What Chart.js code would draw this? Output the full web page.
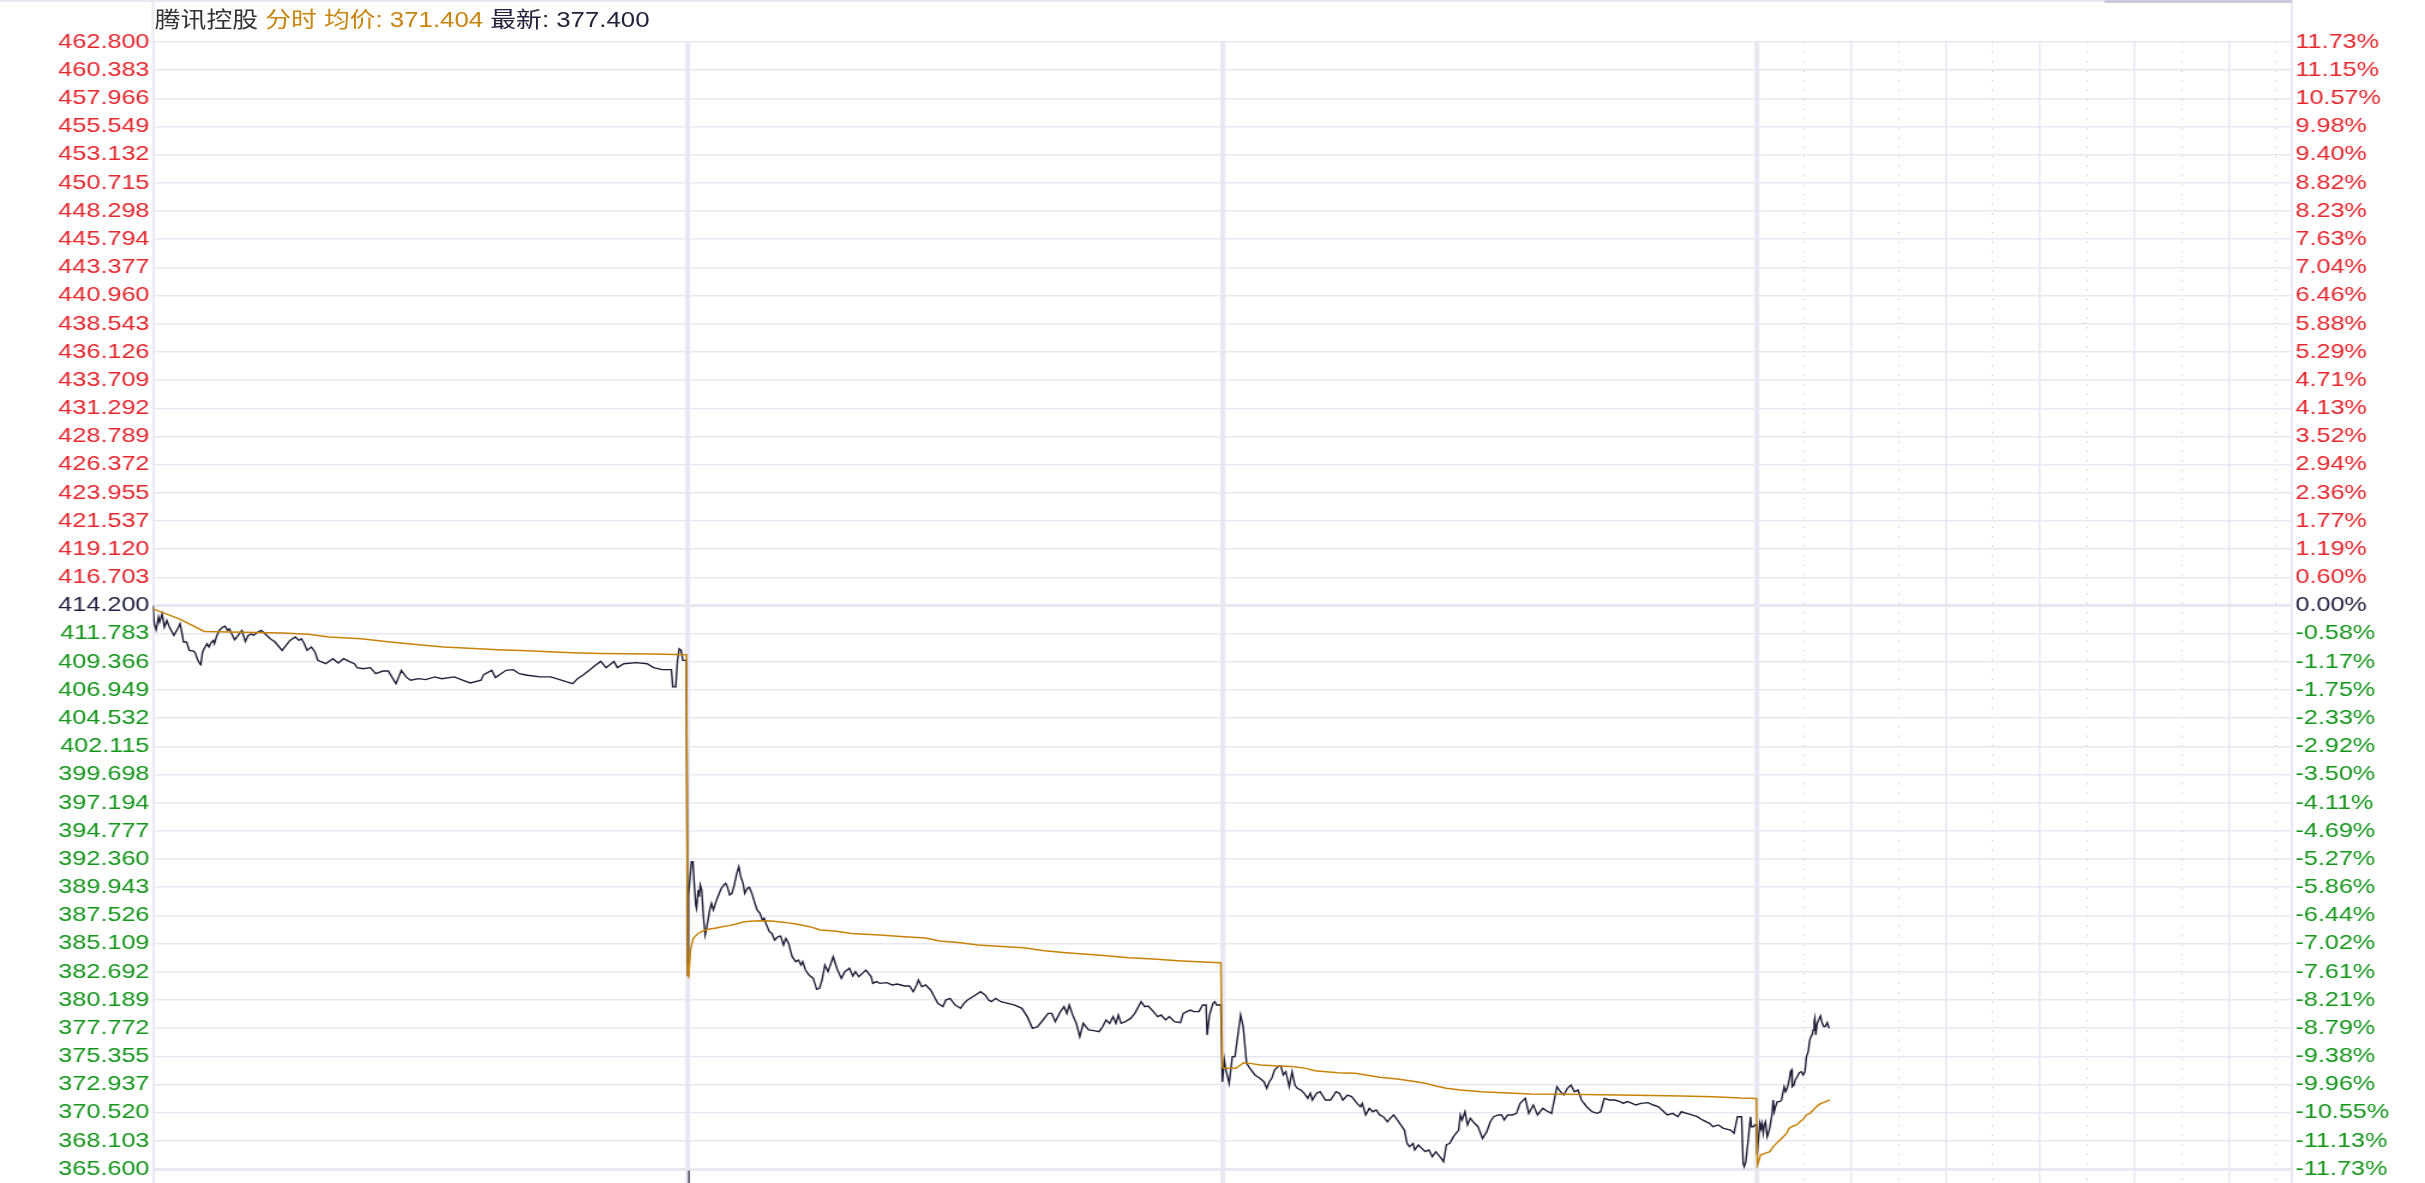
<!DOCTYPE html>
<html><head><meta charset="utf-8">
<script src="https://cdn.jsdelivr.net/npm/chart.js@4.4.0/dist/chart.umd.min.js"></script>
<style>
html,body{margin:0;padding:0;background:#fff;overflow:hidden;width:2425px;height:1183px;}
#wrap{position:absolute;left:0;top:0;width:2021px;height:1183px;transform:scaleX(1.1999);transform-origin:0 0;}
#box{position:absolute;left:0;top:0;width:2021px;height:1183px;}
#hdr{position:absolute;left:129px;top:8px;font-size:21.5px;font-family:"Liberation Sans","Noto Sans CJK SC",Arial,sans-serif;line-height:24px;white-space:nowrap;color:#333;}
</style></head><body>
<div id="wrap">
  <div id="box"><canvas id="c"></canvas></div>
  <div id="hdr"><span style="color:#333333">腾讯控股</span> <span style="color:#c8850f">分时 均价: 371.404</span> <span style="color:#23233c">最新: 377.400</span></div>
</div>
<script>
// ---------- tick labels ----------
const priceLabels = ["462.800","460.383","457.966","455.549","453.132","450.715","448.298","445.794","443.377","440.960","438.543","436.126","433.709","431.292","428.789","426.372","423.955","421.537","419.120","416.703","414.200","411.783","409.366","406.949","404.532","402.115","399.698","397.194","394.777","392.360","389.943","387.526","385.109","382.692","380.189","377.772","375.355","372.937","370.520","368.103","365.600"];
const pctLabels = ["11.73%","11.15%","10.57%","9.98%","9.40%","8.82%","8.23%","7.63%","7.04%","6.46%","5.88%","5.29%","4.71%","4.13%","3.52%","2.94%","2.36%","1.77%","1.19%","0.60%","0.00%","-0.58%","-1.17%","-1.75%","-2.33%","-2.92%","-3.50%","-4.11%","-4.69%","-5.27%","-5.86%","-6.44%","-7.02%","-7.61%","-8.21%","-8.79%","-9.38%","-9.96%","-10.55%","-11.13%","-11.73%"];
const priceMin = 365.6, priceMax = 462.8;
// session starts (trading-minute index, 340 minutes per session)
const dayStarts = [0, 340, 680, 1020, 1360];
const lastDayMarks = [30,60,90,120,150,180,210,240,270,300,330];

// ---------- series: [minute index, price] ----------
const price1 = [[0,414.20],[0.8,412.62],[2.0,412.11],[3.5,413.20],[4.2,412.77],[5.8,413.48],[7.2,412.34],[8.8,412.91],[10.4,412.34],[13.3,411.62],[16.3,412.34],[17.2,412.62],[18.5,411.76],[19.4,411.05],[21.3,411.05],[23.1,410.33],[25.8,410.27],[26.9,410.10],[28.1,409.61],[29.7,409.18],[30.4,409.10],[31.5,410.19],[33.1,410.62],[34.4,410.90],[35.6,410.62],[37.2,411.05],[38.3,411.19],[39.0,410.90],[40.6,411.62],[42.1,412.05],[44.4,412.34],[45.8,412.42],[47.4,412.05],[48.5,412.19],[51.9,411.25],[54.9,411.76],[56.5,412.05],[58.7,411.10],[60.5,411.62],[62.6,411.76],[63.9,411.62],[66.7,411.91],[68.9,412.05],[71.2,411.76],[74.6,411.33],[77.6,411.05],[82.1,410.33],[83.7,410.62],[87.1,411.19],[90.5,411.48],[92.8,411.19],[94.4,411.33],[96.2,410.90],[98.0,410.33],[100.7,410.62],[103.0,410.19],[104.8,409.47],[109.8,409.18],[114.4,409.61],[117.8,409.24],[121.2,409.61],[125.3,409.33],[128.0,409.18],[129.8,408.84],[133.7,408.75],[138.2,408.84],[141.6,408.32],[146.1,408.55],[149.6,408.55],[152.9,407.81],[154.5,407.46],[157.9,408.61],[160.9,408.04],[163.8,407.75],[168.9,407.89],[173.4,407.81],[179.1,408.04],[183.6,407.89],[191.6,408.04],[197.2,407.75],[201.8,407.52],[208.6,407.75],[210.2,408.24],[215.4,408.61],[217.7,407.98],[224.5,408.61],[229.0,408.67],[232.9,408.32],[238.1,408.18],[246.1,408.04],[252.9,408.04],[258.6,407.81],[263.1,407.61],[266.9,407.46],[269.9,407.89],[273.3,408.18],[277.4,408.61],[281.3,409.04],[284.7,409.38],[288.1,408.84],[293.1,409.38],[295.3,408.84],[299.4,409.18],[307.4,409.27],[314.2,409.18],[318.3,408.84],[323.7,408.67],[329.6,408.67],[330.5,407.18],[332.4,407.18],[333.5,409.47],[334.6,410.47],[335.8,410.33],[336.9,409.47],[339.2,409.47]];
const price2 = [[340.0,382.30],[340.5,389.23],[342.4,392.11],[343.3,392.11],[344.0,390.52],[345.1,388.37],[345.6,388.08],[346.7,389.66],[347.3,389.09],[348.0,390.09],[348.9,389.66],[350.0,387.36],[351.1,385.78],[352.0,386.36],[352.9,387.07],[354.0,387.94],[355.1,388.51],[356.3,387.94],[358.0,388.66],[359.6,389.23],[361.4,389.81],[362.9,390.09],[364.1,390.24],[365.2,389.95],[366.7,389.23],[368.1,389.37],[369.6,390.09],[371.2,391.10],[372.5,391.67],[373.7,390.81],[375.2,390.24],[376.3,389.37],[377.9,389.81],[379.2,389.89],[380.8,389.37],[382.4,388.66],[384.1,387.94],[385.9,387.65],[387.5,387.07],[388.6,387.22],[389.7,386.79],[391.9,386.07],[393.5,385.92],[395.3,385.35],[397.5,385.64],[399.1,385.69],[400.9,384.92],[402.4,385.49],[404.2,385.06],[406.4,383.91],[408.7,383.48],[410.4,383.62],[412.0,383.19],[413.1,383.48],[414.9,382.76],[417.1,382.33],[419.8,382.04],[422.0,381.09],[423.8,381.18],[425.4,381.90],[427.2,383.19],[429.2,382.62],[432.5,383.91],[434.8,382.91],[437.7,382.04],[439.9,382.62],[442.8,382.91],[445.0,382.24],[446.6,382.62],[448.8,382.19],[453.3,382.76],[456.6,382.19],[457.7,381.61],[460.0,381.76],[462.2,381.61],[466.6,381.67],[470.0,381.47],[473.3,381.55],[477.8,381.38],[481.1,381.38],[483.4,380.89],[485.6,381.47],[486.7,381.90],[488.9,381.32],[491.2,381.47],[494.5,381.04],[496.8,380.46],[499.0,379.89],[502.3,379.60],[504.1,380.17],[506.8,380.32],[510.1,379.74],[513.5,379.46],[515.7,379.89],[517.9,380.17],[521.3,380.46],[526.2,380.89],[529.1,380.61],[531.3,380.17],[533.1,380.03],[535.8,380.32],[539.1,380.03],[543.6,379.89],[548.0,379.74],[552.5,379.46],[555.9,378.74],[559.2,377.73],[562.5,377.87],[565.9,378.45],[569.2,379.02],[571.5,379.02],[573.7,378.31],[577.0,379.17],[579.3,379.60],[581.1,379.02],[582.6,379.74],[584.8,378.88],[587.1,378.16],[589.3,377.01],[591.5,378.16],[594.9,377.59],[598.2,377.53],[601.6,377.44],[603.8,377.87],[606.0,378.45],[608.3,378.16],[610.5,378.74],[612.3,378.16],[613.8,378.88],[615.6,378.16],[618.3,378.31],[621.6,378.59],[624.3,379.02],[628.3,380.03],[630.6,379.60],[632.8,379.66],[636.1,379.17],[638.8,378.74],[641.0,378.88],[643.9,378.45],[646.2,378.74],[649.5,378.31],[653.3,378.22],[655.1,379.02],[657.3,379.17],[659.6,379.31],[661.8,379.17],[665.1,379.17],[667.4,379.74],[669.6,379.74],[670.3,377.16],[671.8,378.88],[674.0,379.89],[675.2,380.03],[676.3,379.74],[679.0,379.74]];
const price3 = [[680.0,373.13],[681.2,375.00],[682.2,374.14],[684.3,372.99],[686.3,375.29],[688.0,375.29],[689.4,376.73],[691.6,378.88],[693.2,377.88],[695.4,374.71],[697.5,374.28],[700.7,373.71],[703.8,373.42],[706.4,373.13],[708.2,372.56],[709.8,373.13],[711.4,373.42],[713.1,374.14],[715.4,374.43],[717.2,374.48],[718.7,373.71],[720.3,373.99],[722.5,372.70],[724.3,373.99],[726.1,372.84],[727.6,372.56],[729.9,372.41],[732.1,372.13],[734.3,371.69],[735.9,372.13],[737.2,371.55],[739.9,372.13],[742.1,372.27],[745.5,371.55],[748.8,371.55],[752.2,372.27],[754.4,372.13],[756.6,371.55],[759.5,371.98],[762.2,371.84],[765.6,371.26],[767.8,370.97],[768.9,371.26],[771.1,370.26],[773.4,370.83],[775.6,370.54],[777.8,370.69],[780.0,370.26],[782.3,370.11],[784.9,369.68],[786.7,369.97],[788.9,370.26],[791.2,369.83],[793.4,369.40],[795.7,368.96],[797.4,367.81],[799.0,367.53],[801.2,367.81],[802.3,367.24],[804.6,367.67],[806.8,367.38],[809.0,367.09],[811.3,367.24],[813.5,366.66],[815.7,367.09],[819.1,366.52],[820.6,366.23],[822.4,367.67],[824.6,367.81],[826.9,368.39],[830.2,368.96],[831.3,370.26],[832.4,369.83],[834.2,370.54],[835.8,369.40],[837.6,369.97],[840.3,369.54],[842.5,369.25],[845.4,368.24],[848.1,368.82],[850.3,369.68],[852.5,370.11],[855.4,370.26],[857.6,370.26],[859.2,369.83],[861.4,370.26],[864.3,370.26],[867.0,370.40],[869.3,371.26],[872.6,371.69],[874.8,370.40],[877.7,371.12],[880.4,370.26],[883.7,370.83],[887.1,370.54],[889.3,370.40],[892.7,372.70],[894.9,372.27],[897.1,371.98],[899.4,372.56],[901.6,372.84],[903.8,372.27],[906.1,372.41],[908.3,371.55],[911.6,370.97],[915.0,370.54],[918.3,370.40],[920.5,370.54],[922.8,371.69],[926.1,371.55],[929.5,371.55],[932.8,371.41],[935.0,371.26],[937.3,371.41],[940.6,371.26],[942.8,371.12],[946.2,371.26],[950.6,371.32],[954.0,371.12],[957.3,370.97],[960.7,370.54],[962.9,370.26],[966.3,370.40],[969.6,370.11],[971.8,370.54],[975.2,370.40],[978.5,370.26],[981.9,370.11],[985.2,369.83],[989.7,369.54],[991.9,369.25],[995.3,369.40],[998.6,369.11],[1003.1,368.96],[1005.3,368.68],[1007.5,370.11],[1009.0,370.11],[1010.1,370.11],[1011.1,366.09],[1011.8,365.80],[1012.8,366.23],[1014.3,368.10],[1015.8,370.11],[1016.4,369.25],[1017.5,369.25],[1018.6,369.40],[1019.6,369.40]];
const price4 = [[1020.0,366.81],[1020.7,367.96],[1021.7,369.54],[1022.4,369.11],[1023.0,369.54],[1023.9,368.67],[1024.5,369.40],[1025.3,369.68],[1026.4,368.39],[1027.7,368.96],[1028.5,369.54],[1029.4,370.26],[1030.2,371.55],[1030.9,370.55],[1031.7,370.98],[1032.8,371.41],[1034.5,371.41],[1035.5,371.55],[1037.2,372.70],[1038.1,372.27],[1039.1,372.56],[1040.4,373.28],[1041.2,373.99],[1041.9,374.14],[1042.3,372.70],[1043.4,372.84],[1044.2,373.28],[1045.5,373.56],[1046.8,373.91],[1048.2,373.99],[1049.3,373.71],[1050.4,373.99],[1051.4,375.29],[1052.5,375.72],[1053.5,376.73],[1054.2,377.01],[1055.0,377.16],[1055.6,377.59],[1056.3,378.31],[1056.7,378.59],[1057.3,377.16],[1058.2,378.16],[1058.8,378.31],[1059.5,378.59],[1060.3,378.80],[1061.4,378.16],[1062.4,377.88],[1063.3,377.88],[1064.6,378.22],[1065.8,377.73]];

// ---------- series: [minute index, average price] ----------
const avg1 = [[0,413.91],[16.7,413.05],[32.6,411.96],[82.6,411.82],[98.5,411.71],[112.1,411.48],[132.5,411.33],[150.7,411.05],[162.1,410.90],[184.7,410.62],[207.5,410.47],[218.8,410.39],[238.1,410.30],[251.7,410.21],[266.5,410.13],[284.7,410.07],[318.7,410.01],[339.2,409.96]];
const avg2 = [[340.0,382.30],[340.6,382.19],[341.8,384.49],[343.5,385.49],[346.2,385.87],[349.6,386.13],[352.9,386.27],[357.4,386.36],[361.8,386.50],[366.3,386.59],[370.8,386.73],[375.2,386.90],[379.7,386.96],[386.4,387.02],[393.1,386.99],[402.0,386.87],[408.7,386.73],[417.6,386.50],[424.3,386.21],[433.2,386.13],[444.3,385.92],[453.3,385.84],[464.4,385.75],[477.8,385.64],[491.2,385.52],[500.1,385.26],[513.5,385.12],[524.6,384.92],[542.5,384.77],[553.6,384.69],[567.0,384.43],[580.4,384.26],[591.5,384.14],[602.7,384.03],[620.5,383.83],[636.1,383.71],[651.7,383.57],[667.4,383.45],[679.0,383.39]];
const avg3 = [[680.0,374.43],[680.8,374.28],[688.6,374.28],[693.5,374.77],[697.5,374.71],[704.2,374.57],[715.4,374.48],[724.3,374.43],[733.2,374.28],[738.8,374.08],[753.3,373.91],[764.4,373.85],[771.1,373.71],[780.0,373.51],[791.2,373.36],[800.1,373.19],[809.0,372.99],[815.7,372.76],[822.4,372.56],[831.3,372.41],[844.7,372.27],[858.1,372.18],[876.0,372.07],[898.2,372.04],[920.5,372.01],[942.8,371.95],[971.8,371.90],[991.9,371.84],[1009.7,371.72],[1019.6,371.69]];
const avg4 = [[1020.2,365.95],[1022.2,366.81],[1024.9,366.95],[1028.1,367.09],[1030.2,367.53],[1032.3,367.81],[1034.5,368.10],[1036.6,368.39],[1038.7,368.67],[1040.4,369.11],[1042.9,369.31],[1045.1,369.40],[1047.2,369.68],[1049.3,369.88],[1051.4,370.26],[1053.5,370.40],[1055.7,370.69],[1057.8,370.98],[1059.9,371.21],[1062.0,371.32],[1065.2,371.50],[1066.3,371.55]];

// ---------- build ----------
const toXY = a => a.map(p => ({x: p[0], y: p[1]}));
const priceData = toXY([].concat(price1, price2, price3, price4));
const avgData = toXY([].concat(avg1, avg2, avg3, avg4));
const lastStart = dayStarts[3];
const xTickValues = dayStarts.concat(lastDayMarks.map(m => lastStart + m)).sort((a,b)=>a-b);

const GRID = '#e8e8f3';
const DOT = '#cfcfdb';
const FONT = {family: '"Liberation Sans", Arial, sans-serif', size: 21, lineHeight: 1};
const isBoundary = v => v === dayStarts[1] || v === dayStarts[2] || v === dayStarts[3];
const isEdge = v => v === dayStarts[0] || v === dayStarts[4];
const isDotted = v => v > lastStart && v < dayStarts[4] && ((v - lastStart) % 60 === 30);
const tickVal = ctx => ctx.tick ? ctx.tick.value : NaN;
const xColor = ctx => isDotted(tickVal(ctx)) ? DOT : GRID;
const xWidth = ctx => { const v = tickVal(ctx); return isBoundary(v) ? 4.2 : (isEdge(v) ? 2 : (isDotted(v) ? 1 : 1.6)); };
const xDash = ctx => isDotted(tickVal(ctx)) ? [1.5, 8] : [];
function labelColor(j){ return j < 20 ? '#e6262d' : (j === 20 ? '#1f2040' : '#15961b'); }
const yTicks = () => priceLabels.map((_, i) => ({value: priceMin + i * (priceMax - priceMin) / (priceLabels.length - 1)}));

const framePlugin = {
  id: 'frame',
  afterDraw(chart) {
    const {ctx, chartArea: a, scales: {x}} = chart;
    ctx.save();
    ctx.strokeStyle = GRID; ctx.lineWidth = 2;
    ctx.beginPath();
    ctx.moveTo(a.left, 0); ctx.lineTo(a.left, a.top);
    ctx.moveTo(a.right, 0); ctx.lineTo(a.right, a.top);
    ctx.moveTo(0, 1); ctx.lineTo(a.right, 1);
    ctx.stroke();
    ctx.strokeStyle = '#c9c9dc'; ctx.lineWidth = 3;
    ctx.beginPath(); ctx.moveTo(a.right - 156, 1.5); ctx.lineTo(a.right, 1.5); ctx.stroke();
    const px = x.getPixelForValue(dayStarts[1]) + 1;
    ctx.strokeStyle = '#22223a'; ctx.lineWidth = 1.2;
    ctx.beginPath(); ctx.moveTo(px, a.bottom + 1.5); ctx.lineTo(px, chart.height); ctx.stroke();
    ctx.restore();
  }
};

new Chart(document.getElementById('c'), {
  type: 'line',
  data: {datasets: [
    {label: '均价', data: avgData, borderColor: '#c78208', borderWidth: 1.5, pointRadius: 0, tension: 0, yAxisID: 'y'},
    {label: '最新', data: priceData, borderColor: '#1e1e38', borderWidth: 1.4, pointRadius: 0, tension: 0, yAxisID: 'y'}
  ]},
  options: {
    responsive: true, maintainAspectRatio: false, animation: false, events: [],
    layout: {padding: {top: 42, left: 0, right: 0, bottom: 0}},
    plugins: {legend: {display: false}, tooltip: {enabled: false}, title: {display: false}},
    scales: {
      x: {
        type: 'linear', position: 'bottom', min: dayStarts[0], max: dayStarts[4], offset: false,
        afterBuildTicks: s => { s.ticks = xTickValues.map(v => ({value: v})); },
        afterFit: s => { s.height = 14; },
        ticks: {display: false, autoSkip: false},
        border: {display: false, dash: xDash},
        grid: {color: xColor, lineWidth: xWidth, drawTicks: true, tickLength: 14,
               tickColor: xColor, tickWidth: xWidth, tickBorderDash: xDash}
      },
      y: {
        type: 'linear', position: 'left', min: priceMin, max: priceMax,
        afterBuildTicks: s => { s.ticks = yTicks(); },
        afterFit: s => { s.width = 127.5; },
        ticks: {autoSkip: false, padding: 3, font: FONT,
                color: ctx => labelColor(priceLabels.length - 1 - ctx.index),
                callback: (v, i) => priceLabels[priceLabels.length - 1 - i]},
        border: {display: false},
        grid: {drawTicks: false, color: GRID,
               lineWidth: ctx => (ctx.index === 20 || ctx.index === 0) ? 3 : 1.5}
      },
      y2: {
        type: 'linear', position: 'right', min: priceMin, max: priceMax,
        afterBuildTicks: s => { s.ticks = yTicks(); },
        afterFit: s => { s.width = 111; },
        ticks: {autoSkip: false, padding: 3, font: FONT,
                color: ctx => labelColor(pctLabels.length - 1 - ctx.index),
                callback: (v, i) => pctLabels[pctLabels.length - 1 - i]},
        border: {display: false},
        grid: {display: false, drawTicks: false}
      }
    }
  },
  plugins: [framePlugin]
});
</script>
</body></html>
